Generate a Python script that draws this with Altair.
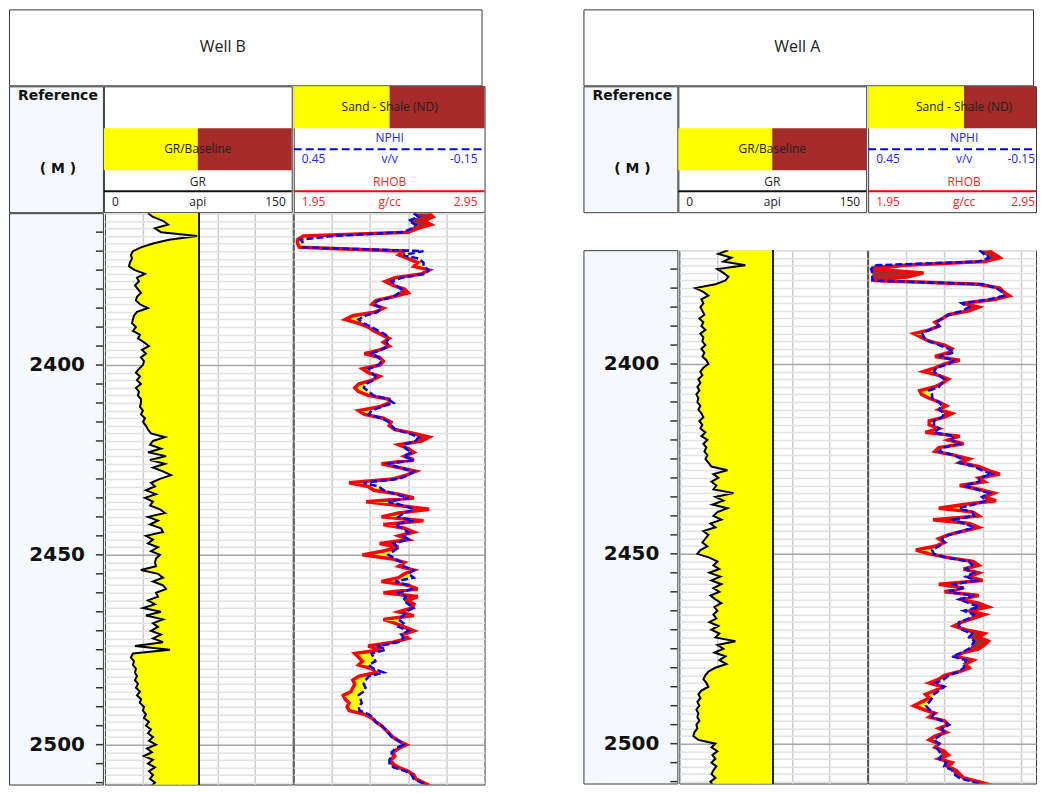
import altair as alt
import pandas as pd

# ---------------- data ----------------
# Well B : depth 2360 .. 2513 m, 1 m step
depth_b = list(range(2360, 2514))
gr_b = [
    34.4, 38.4, 46.4, 50.4, 40.0, 44.8, 73.6, 51.2, 38.4, 28.8,
    22.4, 20.8, 21.6, 20.0, 19.2, 24.0, 32.0, 25.6, 27.2, 24.0,
    26.4, 28.8, 25.6, 24.8, 28.0, 34.4, 25.6, 23.2, 22.4, 21.6,
    24.8, 22.4, 28.0, 26.4, 31.2, 35.2, 29.6, 32.8, 28.8, 31.2,
    30.4, 27.2, 24.8, 28.0, 25.6, 28.8, 24.8, 27.2, 26.4, 28.8,
    28.8, 28.0, 30.4, 28.8, 32.0, 30.4, 32.8, 34.4, 36.8, 48.0,
    38.4, 36.0, 44.8, 34.4, 48.8, 36.0, 48.0, 38.4, 46.4, 52.8,
    44.0, 36.8, 40.0, 32.8, 40.8, 32.0, 38.4, 36.0, 44.0, 48.0,
    34.4, 42.4, 36.0, 44.8, 46.4, 32.8, 38.4, 34.4, 42.4, 36.8,
    44.0, 40.8, 40.0, 40.8, 28.8, 42.4, 46.4, 38.4, 46.4, 48.8,
    40.8, 42.4, 34.4, 40.0, 30.4, 44.8, 32.8, 46.4, 38.4, 42.4,
    36.8, 44.8, 38.4, 46.4, 24.0, 52.0, 22.4, 20.8, 23.2, 22.4,
    24.8, 24.0, 25.6, 24.0, 26.4, 24.8, 28.0, 25.6, 28.8, 28.0,
    31.2, 30.4, 32.8, 31.2, 35.2, 32.8, 36.8, 34.4, 38.4, 35.2,
    40.8, 33.6, 37.6, 31.2, 38.4, 34.4, 40.0, 35.2, 38.4, 36.0,
    40.0, 36.8, 38.4, 37.6,
]
rhob_b = [
    2.66, 2.68, 2.63, 2.67, 2.60, 2.55, 2.00, 1.97, 1.97, 1.98,
    2.53, 2.50, 2.55, 2.60, 2.58, 2.66, 2.62, 2.48, 2.43, 2.47,
    2.53, 2.55, 2.47, 2.38, 2.36, 2.42, 2.38, 2.26, 2.22, 2.29,
    2.34, 2.37, 2.41, 2.45, 2.42, 2.45, 2.40, 2.32, 2.40, 2.42,
    2.40, 2.31, 2.34, 2.40, 2.36, 2.29, 2.27, 2.29, 2.34, 2.45,
    2.45, 2.40, 2.29, 2.32, 2.42, 2.46, 2.45, 2.48, 2.58, 2.66,
    2.62, 2.50, 2.55, 2.58, 2.53, 2.58, 2.41, 2.50, 2.59, 2.54,
    2.47, 2.24, 2.34, 2.37, 2.50, 2.58, 2.33, 2.50, 2.66, 2.50,
    2.41, 2.63, 2.42, 2.53, 2.58, 2.50, 2.55, 2.40, 2.50, 2.42,
    2.31, 2.46, 2.53, 2.50, 2.58, 2.53, 2.50, 2.41, 2.55, 2.60,
    2.42, 2.60, 2.55, 2.58, 2.57, 2.50, 2.58, 2.42, 2.48, 2.53,
    2.58, 2.52, 2.55, 2.47, 2.34, 2.41, 2.27, 2.29, 2.31, 2.29,
    2.36, 2.38, 2.29, 2.26, 2.27, 2.26, 2.25, 2.21, 2.22, 2.24,
    2.23, 2.24, 2.32, 2.36, 2.38, 2.41, 2.43, 2.45, 2.47, 2.50,
    2.54, 2.50, 2.47, 2.48, 2.46, 2.47, 2.50, 2.55, 2.58, 2.59,
    2.63, 2.67, 2.64, 2.66,
]
nphi_b = [
    0.073, 0.057, 0.089, 0.067, 0.079, 0.105, 0.324, 0.428, 0.419, 0.419,
    0.042, 0.105, 0.057, 0.042, 0.042, 0.026, 0.036, 0.111, 0.142, 0.130,
    0.111, 0.120, 0.136, 0.183, 0.199, 0.174, 0.186, 0.224, 0.246, 0.230,
    0.205, 0.183, 0.161, 0.152, 0.158, 0.152, 0.174, 0.205, 0.183, 0.174,
    0.183, 0.214, 0.205, 0.193, 0.199, 0.224, 0.230, 0.214, 0.199, 0.152,
    0.136, 0.174, 0.205, 0.214, 0.174, 0.152, 0.142, 0.130, 0.089, 0.057,
    0.067, 0.105, 0.098, 0.079, 0.105, 0.073, 0.152, 0.120, 0.073, 0.089,
    0.120, 0.230, 0.183, 0.167, 0.130, 0.089, 0.152, 0.105, 0.073, 0.105,
    0.120, 0.073, 0.130, 0.111, 0.089, 0.105, 0.089, 0.136, 0.120, 0.136,
    0.152, 0.130, 0.111, 0.105, 0.073, 0.089, 0.073, 0.130, 0.089, 0.079,
    0.120, 0.098, 0.105, 0.089, 0.073, 0.098, 0.105, 0.120, 0.105, 0.120,
    0.089, 0.111, 0.105, 0.120, 0.183, 0.161, 0.205, 0.199, 0.193, 0.214,
    0.199, 0.167, 0.214, 0.224, 0.230, 0.224, 0.230, 0.246, 0.240, 0.236,
    0.246, 0.243, 0.214, 0.199, 0.193, 0.174, 0.161, 0.152, 0.142, 0.120,
    0.105, 0.130, 0.142, 0.142, 0.149, 0.149, 0.136, 0.098, 0.079, 0.073,
    0.048, 0.026, 0.042, 0.032,
]

# Well A : depth 2370 .. 2513 m, 1 m step
depth_a = list(range(2370, 2514))
gr_a = [
    39.2, 31.2, 41.6, 35.2, 52.8, 30.4, 35.2, 39.2, 36.8, 28.8,
    12.8, 19.2, 23.2, 17.6, 19.2, 16.8, 18.4, 20.0, 16.0, 19.2,
    17.6, 20.8, 16.8, 19.2, 18.4, 20.8, 17.6, 20.0, 18.4, 21.6,
    23.2, 19.2, 16.8, 18.4, 15.2, 16.8, 14.4, 16.0, 13.6, 15.2,
    14.4, 16.8, 15.2, 17.6, 19.2, 16.0, 18.4, 16.8, 20.8, 17.6,
    22.4, 19.2, 21.6, 20.0, 22.4, 20.8, 23.2, 25.6, 38.4, 27.2,
    31.2, 25.6, 29.6, 27.2, 43.2, 28.8, 35.2, 26.4, 38.4, 30.4,
    27.2, 33.6, 24.8, 28.8, 19.2, 23.2, 20.8, 18.4, 22.4, 16.8,
    14.4, 24.0, 30.4, 27.2, 32.0, 24.0, 32.8, 25.6, 33.6, 27.2,
    32.0, 24.8, 28.8, 33.6, 28.0, 30.4, 27.2, 29.6, 24.0, 31.2,
    25.6, 32.0, 28.8, 44.8, 30.4, 35.2, 28.0, 36.8, 32.0, 37.6,
    28.8, 23.2, 20.8, 19.2, 21.6, 23.2, 17.6, 15.2, 16.8, 14.4,
    16.0, 13.6, 15.2, 14.4, 16.0, 13.6, 14.4, 12.0, 11.2, 15.2,
    28.8, 25.6, 30.4, 26.4, 28.8, 25.6, 29.6, 27.2, 25.6, 28.8,
    24.8, 27.2, 25.6, 26.4,
]
rhob_a = [
    2.58, 2.61, 2.64, 2.56, 2.14, 1.98, 2.24, 2.16, 1.98, 2.53,
    2.64, 2.66, 2.69, 2.61, 2.45, 2.53, 2.48, 2.37, 2.34, 2.30,
    2.32, 2.27, 2.19, 2.23, 2.27, 2.35, 2.39, 2.37, 2.30, 2.43,
    2.35, 2.30, 2.24, 2.32, 2.37, 2.34, 2.30, 2.22, 2.23, 2.27,
    2.32, 2.36, 2.32, 2.39, 2.35, 2.27, 2.27, 2.32, 2.25, 2.43,
    2.37, 2.45, 2.32, 2.30, 2.40, 2.48, 2.43, 2.53, 2.58, 2.64,
    2.53, 2.56, 2.43, 2.53, 2.61, 2.56, 2.62, 2.45, 2.32, 2.50,
    2.53, 2.29, 2.48, 2.53, 2.45, 2.37, 2.32, 2.35, 2.30, 2.20,
    2.27, 2.37, 2.50, 2.53, 2.45, 2.53, 2.48, 2.55, 2.32, 2.45,
    2.35, 2.53, 2.43, 2.53, 2.58, 2.48, 2.56, 2.50, 2.44, 2.40,
    2.46, 2.56, 2.53, 2.58, 2.56, 2.53, 2.45, 2.41, 2.50, 2.46,
    2.48, 2.43, 2.35, 2.32, 2.27, 2.34, 2.30, 2.25, 2.27, 2.23,
    2.19, 2.24, 2.30, 2.27, 2.35, 2.37, 2.32, 2.36, 2.30, 2.27,
    2.32, 2.30, 2.35, 2.37, 2.32, 2.39, 2.37, 2.41, 2.43, 2.45,
    2.53, 2.60, 2.50, 2.56,
]
nphi_a = [
    0.101, 0.086, 0.070, 0.101, 0.431, 0.441, 0.437, 0.437, 0.437, 0.086,
    0.048, 0.029, 0.023, 0.070, 0.155, 0.133, 0.155, 0.196, 0.218, 0.236,
    0.227, 0.258, 0.280, 0.274, 0.258, 0.227, 0.196, 0.180, 0.227, 0.180,
    0.196, 0.236, 0.243, 0.227, 0.211, 0.218, 0.227, 0.258, 0.249, 0.249,
    0.227, 0.218, 0.227, 0.211, 0.218, 0.243, 0.243, 0.227, 0.243, 0.180,
    0.186, 0.164, 0.211, 0.227, 0.180, 0.155, 0.164, 0.117, 0.092, 0.061,
    0.101, 0.101, 0.149, 0.111, 0.070, 0.092, 0.079, 0.117, 0.164, 0.123,
    0.117, 0.180, 0.149, 0.117, 0.155, 0.196, 0.218, 0.211, 0.227, 0.249,
    0.243, 0.205, 0.133, 0.123, 0.142, 0.117, 0.142, 0.111, 0.180, 0.155,
    0.196, 0.117, 0.164, 0.133, 0.101, 0.149, 0.117, 0.133, 0.164, 0.164,
    0.155, 0.123, 0.133, 0.117, 0.123, 0.133, 0.155, 0.186, 0.142, 0.149,
    0.149, 0.164, 0.196, 0.211, 0.236, 0.211, 0.227, 0.243, 0.249, 0.258,
    0.268, 0.258, 0.243, 0.249, 0.218, 0.196, 0.218, 0.211, 0.227, 0.243,
    0.227, 0.236, 0.227, 0.218, 0.227, 0.205, 0.211, 0.186, 0.180, 0.164,
    0.123, 0.086, 0.123, 0.101,
]

# depth reference column: bold labels every 50 m (ticks every 5 m)
ref_label_depths = [2400, 2450, 2500]

assert len(depth_b) == len(gr_b) == len(rhob_b) == len(nphi_b)
assert len(depth_a) == len(gr_a) == len(rhob_a) == len(nphi_a)

# ---------------- style / layout ----------------
FONT = "Open Sans"
BOLD_FONT = "DejaVu Sans"
YELLOW = "#ffff00"
BROWN = "#a52a2a"
RED = "#ff0000"
BLUE = "#0000ff"
RED_TXT = "#ff2525"
BLUE_TXT = "#2424ff"
REF_BG = "#f5f9fe"
GRID_MINOR = "#e2e2e2"
GRID_MAJOR = "#a6a6a6"
GRID_V = "#cdcdcd"
FRAME = "#3a3a3a"

W_REF, W_GR, W_ND = 94, 188, 191
W_ND_A = 168              # Well A's ND track is cut by the right edge of the page
PX_PER_M = 3.8
DEPTH_BOTTOM = 2510.5
GR_BASE = 75
GAP_H = -3                # cancels the bound padding Vega adds round stroked panels
GAP_V = -2

ONE = pd.DataFrame({"k": [0]})


def txt(label, x, y, color="#222222", size=12, weight="normal", align="center", font=FONT):
    return alt.Chart(ONE).mark_text(
        text=label, color=color, fontSize=size, fontWeight=weight,
        align=align, baseline="middle", font=font
    ).encode(x=alt.value(x), y=alt.value(y))


def box(x, x2, y, y2, color):
    return alt.Chart(ONE).mark_rect(color=color).encode(
        x=alt.value(x), x2=alt.value(x2), y=alt.value(y), y2=alt.value(y2))


def hline(x, x2, y, color, width=2, dash=None):
    kw = dict(color=color, strokeWidth=width)
    if dash:
        kw["strokeDash"] = dash
    return alt.Chart(ONE).mark_rule(**kw).encode(
        x=alt.value(x), x2=alt.value(x2), y=alt.value(y))


def title_panel(name, w_nd):
    return txt(name, 214, 38, size=16).properties(
        width=W_REF + W_GR + w_nd, height=76,
        view=alt.ViewBackground(fill="white", stroke=FRAME, strokeWidth=1))


def header_panel(w_nd):
    H = 126
    ref = alt.layer(
        txt("Reference", 49, 10, color="#111111", size=14, weight="bold", font=BOLD_FONT),
        txt("( M )", 49, 83, color="#111111", size=14, weight="bold", font=BOLD_FONT),
    ).properties(width=W_REF, height=H,
                 view=alt.ViewBackground(fill=REF_BG, stroke=FRAME, strokeWidth=1))
    gr = alt.layer(
        box(0, W_GR / 2, 42, 84, YELLOW),
        box(W_GR / 2, W_GR, 42, 84, BROWN),
        txt("GR/Baseline", W_GR / 2, 63),
        txt("GR", W_GR / 2, 96),
        hline(0, W_GR, 105, "#111111", 2),
        txt("0", 8, 116, align="left"),
        txt("api", W_GR / 2, 116),
        txt("150", W_GR - 6, 116, align="right"),
    ).properties(width=W_GR, height=H,
                 view=alt.ViewBackground(fill="white", stroke=FRAME, strokeWidth=1))
    right = min(W_ND - 7, w_nd - 1)
    nd = alt.layer(
        box(0, 96, 0, 42, YELLOW),
        box(96, w_nd, 0, 42, BROWN),
        txt("Sand - Shale (ND)", 96, 21),
        txt("NPHI", 96, 52, color=BLUE_TXT),
        hline(0, w_nd, 63, BLUE, 2, [8, 4]),
        txt("0.45", 8, 73, color=BLUE_TXT, align="left"),
        txt("v/v", 96, 73, color=BLUE_TXT),
        txt("-0.15", right, 73, color=BLUE_TXT, align="right"),
        txt("RHOB", 96, 96, color=RED_TXT),
        hline(0, w_nd, 105, RED, 2),
        txt("1.95", 8, 116, color=RED_TXT, align="left"),
        txt("g/cc", 96, 116, color=RED_TXT),
        txt("2.95", right, 116, color=RED_TXT, align="right"),
    ).properties(width=w_nd, height=H,
                 view=alt.ViewBackground(fill="white", stroke=FRAME, strokeWidth=1))
    return alt.hconcat(ref, gr, nd, spacing=GAP_H)


def track_panels(depth, gr, rhob, nphi, w_nd):
    df = pd.DataFrame({"depth": depth, "gr": gr, "rhob": rhob, "nphi": nphi})
    top = depth[0]
    bottom_int = int(DEPTH_BOTTOM)
    H = (DEPTH_BOTTOM - top) * PX_PER_M
    yscale = alt.Scale(domain=[top, DEPTH_BOTTOM], reverse=True, nice=False, zero=False)
    grid_axis = alt.Axis(
        values=list(range(top, bottom_int + 1, 2)), grid=True,
        gridColor={"condition": {"test": "datum.value % 50 === 0", "value": GRID_MAJOR},
                   "value": GRID_MINOR},
        gridWidth=1.5, labels=False, ticks=False, domain=False, title=None)
    Y = alt.Y("depth:Q", scale=yscale, axis=grid_axis)
    frame = alt.ViewBackground(fill="white", stroke=FRAME, strokeWidth=1)

    # depth reference column (ticks every 5 m, bold labels every 50 m)
    tick_df = pd.DataFrame({"depth": list(range(top + 5, bottom_int + 1, 5))})
    lab_df = pd.DataFrame({"depth": ref_label_depths})
    Yref = alt.Y("depth:Q", scale=yscale, axis=None)
    ref = alt.layer(
        alt.Chart(tick_df).mark_rule(color="#333333", strokeWidth=1.5).encode(
            y=Yref, x=alt.value(W_REF - 7), x2=alt.value(W_REF)),
        alt.Chart(lab_df).mark_text(
            font=BOLD_FONT, fontSize=20, fontWeight="bold", color="#111111",
            align="right", baseline="middle").encode(
            y=Yref, x=alt.value(W_REF - 18), text=alt.Text("depth:Q", format="d")),
    ).properties(width=W_REF, height=H,
                 view=alt.ViewBackground(fill=REF_BG, stroke=FRAME, strokeWidth=1))

    # GR track
    gx_scale = alt.Scale(domain=[0, 150], nice=False, zero=False)
    gx_axis = alt.Axis(values=[30, 60, 90, 120], grid=True, gridColor=GRID_V, gridWidth=1.5,
                       labels=False, ticks=False, domain=False, title=None)
    gbase = alt.Chart(df).transform_calculate(
        gr_lo=f"min(datum.gr, {GR_BASE})", gr_hi=f"max(datum.gr, {GR_BASE})")
    gr_track = alt.layer(
        gbase.mark_area(orient="horizontal", color=YELLOW, clip=True).encode(
            y=Y, x=alt.X("gr_lo:Q", scale=gx_scale, axis=gx_axis), x2=alt.datum(GR_BASE)),
        gbase.mark_area(orient="horizontal", color=BROWN, clip=True).encode(
            y=Y, x=alt.X("gr_hi:Q", scale=gx_scale, axis=gx_axis), x2=alt.datum(GR_BASE)),
        gbase.mark_rule(color="#222222", strokeWidth=1).encode(
            x=alt.datum(GR_BASE, scale=gx_scale, axis=gx_axis)),
        gbase.mark_line(color="black", strokeWidth=2, clip=True).encode(
            y=Y, x=alt.X("gr:Q", scale=gx_scale, axis=gx_axis), order="depth:Q"),
    ).properties(width=W_GR, height=H, view=frame)

    # Neutron-density track (NPHI brought onto the RHOB scale)
    nx_scale = alt.Scale(domain=[1.95, 1.95 + w_nd / W_ND], nice=False, zero=False)
    nx_axis = alt.Axis(values=[2.15, 2.35, 2.55, 2.75], grid=True, gridColor=GRID_V,
                       gridWidth=1.5, labels=False, ticks=False, domain=False, title=None)
    nbase = alt.Chart(df).transform_calculate(
        nd="1.95 + (0.45 - datum.nphi) / 0.6"
    ).transform_calculate(
        sand_lo="min(datum.rhob, datum.nd)", shale_hi="max(datum.rhob, datum.nd)")
    nd_track = alt.layer(
        nbase.mark_area(orient="horizontal", color=YELLOW, clip=True).encode(
            y=Y, x=alt.X("sand_lo:Q", scale=nx_scale, axis=nx_axis), x2="nd:Q"),
        nbase.mark_area(orient="horizontal", color=BROWN, clip=True).encode(
            y=Y, x=alt.X("nd:Q", scale=nx_scale, axis=nx_axis), x2="shale_hi:Q"),
        nbase.mark_line(color=RED, strokeWidth=3.5, clip=True).encode(
            y=Y, x=alt.X("rhob:Q", scale=nx_scale, axis=nx_axis), order="depth:Q"),
        nbase.mark_line(color=BLUE, strokeWidth=2.5, strokeDash=[7, 3], clip=True).encode(
            y=Y, x=alt.X("nd:Q", scale=nx_scale, axis=nx_axis), order="depth:Q"),
    ).properties(width=w_nd, height=H, view=frame)

    return alt.hconcat(ref, gr_track, nd_track, spacing=GAP_H)


well_b = alt.vconcat(
    title_panel("Well B", W_ND), header_panel(W_ND),
    track_panels(depth_b, gr_b, rhob_b, nphi_b, W_ND), spacing=GAP_V)

well_a = alt.vconcat(
    alt.vconcat(title_panel("Well A", W_ND_A), header_panel(W_ND_A), spacing=GAP_V),
    track_panels(depth_a, gr_a, rhob_a, nphi_a, W_ND_A), spacing=36)

chart = alt.hconcat(well_b, well_a, spacing=96).properties(
    padding={"left": 0, "top": 0, "right": 0, "bottom": 0}
).configure(font=FONT)

chart.save("out.html", embed_options={"renderer": "svg", "actions": False})
